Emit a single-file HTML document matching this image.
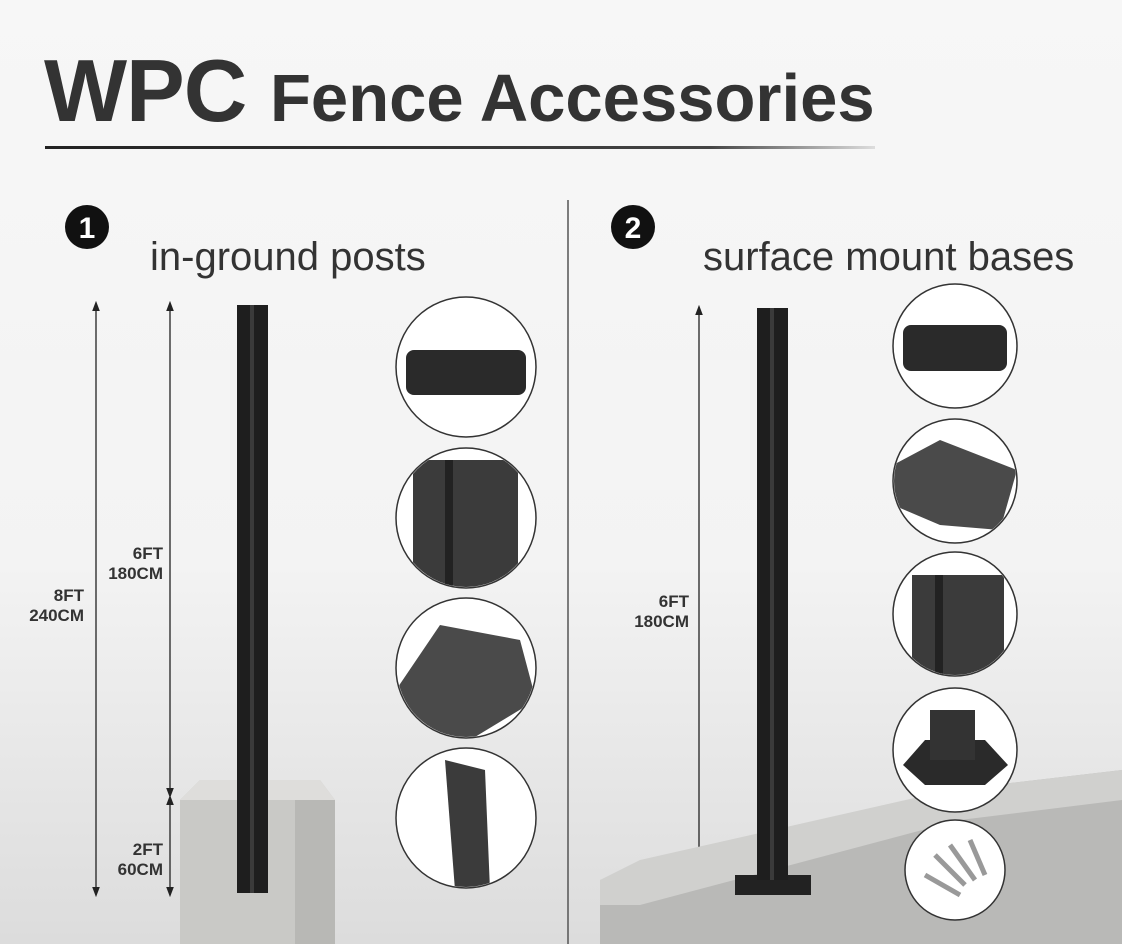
<!DOCTYPE html>
<html><head><meta charset="utf-8"><style>
html,body{margin:0;padding:0}
body{width:1122px;height:944px;overflow:hidden;position:relative;background:linear-gradient(#f7f7f7 0%,#f3f3f3 60%,#dcdcdc 100%);font-family:"Liberation Sans",sans-serif;color:#333}
.t{position:absolute;white-space:nowrap}
</style></head><body>
<div class="t" style="left:44px;top:40px;font-size:88px;font-weight:bold;color:#333;letter-spacing:-1px">WPC</div>
<div class="t" style="left:270px;top:60px;font-size:67px;font-weight:bold;color:#333">Fence Accessories</div>
<div class="t" style="left:150px;top:235px;font-size:40px;color:#333">in-ground posts</div>
<div class="t" style="left:703px;top:235px;font-size:40px;color:#333">surface mount bases</div>
<div class="t" style="left:14px;top:586px;font-size:17px;font-weight:bold;text-align:right;width:70px;line-height:20px">8FT<br>240CM</div>
<div class="t" style="left:93px;top:544px;font-size:17px;font-weight:bold;text-align:right;width:70px;line-height:20px">6FT<br>180CM</div>
<div class="t" style="left:93px;top:840px;font-size:17px;font-weight:bold;text-align:right;width:70px;line-height:20px">2FT<br>60CM</div>
<div class="t" style="left:617px;top:592px;font-size:17px;font-weight:bold;text-align:right;width:72px;line-height:20px">6FT<br>180CM</div>
<svg width="1122" height="944" style="position:absolute;left:0;top:0">
<defs>
<linearGradient id="ul" x1="0" x2="1"><stop offset="0" stop-color="#222"/><stop offset="0.8" stop-color="#444"/><stop offset="1" stop-color="#ddd"/></linearGradient>
<marker id="a" markerWidth="8" markerHeight="8" refX="4" refY="4" orient="auto-start-reverse"><path d="M0,1 L8,4 L0,7z" fill="#222"/></marker>
<clipPath id="c1"><circle cx="466" cy="367" r="69"/></clipPath>
<clipPath id="c2"><circle cx="466" cy="518" r="69"/></clipPath>
<clipPath id="c3"><circle cx="466" cy="668" r="69"/></clipPath>
<clipPath id="c4"><circle cx="466" cy="818" r="69"/></clipPath>
<clipPath id="d1"><circle cx="955" cy="346" r="61"/></clipPath>
<clipPath id="d2"><circle cx="955" cy="481" r="61"/></clipPath>
<clipPath id="d3"><circle cx="955" cy="614" r="61"/></clipPath>
<clipPath id="d4"><circle cx="955" cy="750" r="61"/></clipPath>
</defs>
<rect x="45" y="146" width="830" height="3" fill="url(#ul)"/>
<line x1="568" y1="200" x2="568" y2="944" stroke="#555" stroke-width="1.5"/>
<circle cx="87" cy="227" r="22" fill="#111"/><text x="87" y="238" font-size="30" font-weight="bold" fill="#fff" text-anchor="middle" font-family="Liberation Sans">1</text>
<circle cx="633" cy="227" r="22" fill="#111"/><text x="633" y="238" font-size="30" font-weight="bold" fill="#fff" text-anchor="middle" font-family="Liberation Sans">2</text>
<g stroke="#222" stroke-width="1.3" marker-start="url(#a)" marker-end="url(#a)">
<line x1="96" y1="306" x2="96" y2="892"/><line x1="170" y1="306" x2="170" y2="793"/><line x1="170" y1="800" x2="170" y2="892"/><line x1="699" y1="310" x2="699" y2="888"/>
</g>
<polygon points="180,800 200,780 320,780 335,800 335,944 180,944" fill="#c9c9c6"/>
<polygon points="180,800 200,780 320,780 335,800" fill="#dedddb"/>
<polygon points="295,800 335,800 335,944 295,944" fill="#b8b8b5"/>
<rect x="237" y="305" width="31" height="588" fill="#1e1e1e"/><rect x="250" y="305" width="4" height="588" fill="#3a3a3a"/>
<polygon points="600,880 950,790 1122,770 1122,944 600,944" fill="#b9b9b7"/>
<polygon points="600,880 640,860 950,790 1122,770 1122,800 960,820 640,905 600,905" fill="#d0d0ce"/>
<rect x="735" y="875" width="76" height="20" fill="#222"/>
<rect x="757" y="308" width="31" height="572" fill="#1e1e1e"/><rect x="770" y="308" width="4" height="572" fill="#3a3a3a"/>
<g fill="#fff" stroke="#333" stroke-width="1.5">
<circle cx="466" cy="367" r="70"/><circle cx="466" cy="518" r="70"/><circle cx="466" cy="668" r="70"/><circle cx="466" cy="818" r="70"/>
<circle cx="955" cy="346" r="62"/><circle cx="955" cy="481" r="62"/><circle cx="955" cy="614" r="62"/><circle cx="955" cy="750" r="62"/><circle cx="955" cy="870" r="50"/>
</g>
<rect x="406" y="350" width="120" height="45" rx="8" fill="#2a2a2a"/>
<g clip-path="url(#c2)"><rect x="413" y="460" width="105" height="130" fill="#3b3b3b"/><rect x="445" y="460" width="8" height="130" fill="#222"/></g>
<g clip-path="url(#c3)"><polygon points="396,690 440,625 520,640 536,700 470,740 396,730" fill="#4a4a4a"/></g>
<g clip-path="url(#c4)"><polygon points="445,760 485,770 490,890 455,890" fill="#3b3b3b"/></g>
<rect x="903" y="325" width="104" height="46" rx="8" fill="#2a2a2a"/>
<g clip-path="url(#d2)"><polygon points="893,465 940,440 1017,470 1000,530 940,525 893,505" fill="#4a4a4a"/></g>
<g clip-path="url(#d3)"><rect x="912" y="575" width="92" height="100" fill="#3b3b3b"/><rect x="935" y="575" width="8" height="100" fill="#222"/></g>
<g clip-path="url(#d4)"><polygon points="903,765 925,740 985,740 1008,765 985,785 925,785" fill="#2a2a2a"/><rect x="930" y="710" width="45" height="50" fill="#333"/></g>
<g stroke="#999" stroke-width="5"><line x1="925" y1="875" x2="960" y2="895"/><line x1="935" y1="855" x2="965" y2="885"/><line x1="950" y1="845" x2="975" y2="880"/><line x1="970" y1="840" x2="985" y2="875"/></g>
</svg>
</body></html>
